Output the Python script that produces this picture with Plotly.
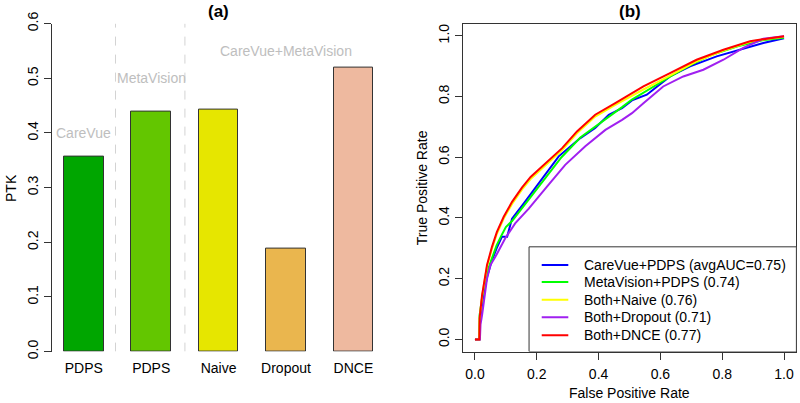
import plotly.graph_objects as go

# ---------------- data ----------------
bar_labels = ["PDPS", "PDPS", "Naive", "Dropout", "DNCE"]
bar_values = [0.357, 0.439, 0.442, 0.189, 0.520]
bar_colors = ["#00A600", "#63C600", "#E6E600", "#EAB64E", "#EEB99F"]
group_labels = ["CareVue", "MetaVision", "CareVue+MetaVision"]
group_label_x = [0, 1, 3]
group_label_y = [0.40, 0.50, 0.55]
separators_x = [0.47, 1.5]

roc_names = ["CareVue+PDPS (avgAUC=0.75)", "MetaVision+PDPS (0.74)", "Both+Naive (0.76)",
             "Both+Dropout (0.71)", "Both+DNCE (0.77)"]
roc_colors = ["#0000FF", "#00FF00", "#FFFF00", "#A020F0", "#FF0000"]

fpr_carevue = [0, 0.014, 0.016, 0.025, 0.04, 0.055, 0.07, 0.087, 0.104, 0.12, 0.158, 0.2, 0.24, 0.271,
               0.341, 0.389, 0.433, 0.476, 0.508, 0.556, 0.631, 0.696, 0.782, 0.858, 0.933, 1.0]
tpr_carevue = [0, 0, 0.06, 0.13, 0.21, 0.26, 0.30, 0.338, 0.338, 0.398, 0.448, 0.505, 0.56, 0.603,
               0.663, 0.696, 0.74, 0.762, 0.787, 0.806, 0.866, 0.899, 0.932, 0.954, 0.976, 0.992]

fpr_metavision = [0, 0.014, 0.015, 0.025, 0.04, 0.055, 0.07, 0.087, 0.1, 0.12, 0.158, 0.2, 0.24, 0.28,
                  0.341, 0.389, 0.433, 0.476, 0.508, 0.556, 0.631, 0.7, 0.76, 0.85, 0.93, 1.0]
tpr_metavision = [0, 0, 0.08, 0.15, 0.225, 0.27, 0.31, 0.345, 0.37, 0.39, 0.44, 0.495, 0.545, 0.60,
                  0.665, 0.70, 0.735, 0.765, 0.79, 0.82, 0.865, 0.905, 0.935, 0.965, 0.985, 0.993]

fpr_naive = [0, 0.014, 0.015, 0.023, 0.039, 0.055, 0.071, 0.093, 0.12, 0.152, 0.18, 0.217, 0.25,
             0.282, 0.33, 0.389, 0.454, 0.508, 0.545, 0.631, 0.717, 0.804, 0.89, 0.955, 1.0]
tpr_naive = [0, 0, 0.068, 0.142, 0.24, 0.299, 0.348, 0.398, 0.446, 0.493, 0.528, 0.563, 0.594,
             0.624, 0.679, 0.734, 0.772, 0.803, 0.823, 0.869, 0.916, 0.951, 0.98, 0.991, 0.997]

fpr_dropout = [0, 0.016, 0.018, 0.023, 0.039, 0.05, 0.066, 0.098, 0.13, 0.174, 0.233, 0.292, 0.357,
               0.422, 0.476, 0.508, 0.545, 0.609, 0.674, 0.739, 0.804, 0.868, 0.933, 1.0]
tpr_dropout = [0, 0, 0.05, 0.08, 0.20, 0.245, 0.272, 0.333, 0.382, 0.431, 0.503, 0.575, 0.636,
               0.69, 0.723, 0.745, 0.778, 0.833, 0.866, 0.888, 0.921, 0.96, 0.99, 0.998]

fpr_dnce = [0, 0.014, 0.015, 0.023, 0.039, 0.055, 0.071, 0.093, 0.12, 0.152, 0.18, 0.217, 0.25,
            0.282, 0.33, 0.389, 0.454, 0.508, 0.545, 0.631, 0.717, 0.804, 0.89, 0.955, 1.0]
tpr_dnce = [0, 0, 0.07, 0.146, 0.245, 0.305, 0.354, 0.404, 0.453, 0.50, 0.535, 0.57, 0.60,
            0.63, 0.685, 0.74, 0.778, 0.811, 0.833, 0.877, 0.921, 0.954, 0.982, 0.992, 0.998]

roc_fpr = [fpr_carevue, fpr_metavision, fpr_naive, fpr_dropout, fpr_dnce]
roc_tpr = [tpr_carevue, tpr_metavision, tpr_naive, tpr_dropout, tpr_dnce]

ptk_ticks = [0.0, 0.1, 0.2, 0.3, 0.4, 0.5, 0.6]
roc_ticks = [0.0, 0.2, 0.4, 0.6, 0.8, 1.0]

# ---------------- figure ----------------
FONT = "Liberation Sans, Arial, Helvetica, sans-serif"
fig = go.Figure()

fig.add_trace(go.Bar(
    x=list(range(len(bar_values))), y=bar_values, width=0.586,
    marker=dict(color=bar_colors, line=dict(color="#333333", width=1)),
    xaxis="x", yaxis="y", showlegend=False, hoverinfo="y"))

for f, t, c, n in zip(roc_fpr, roc_tpr, roc_colors, roc_names):
    fig.add_trace(go.Scatter(x=f, y=t, mode="lines", line=dict(color=c, width=2),
                             name=n, xaxis="x2", yaxis="y2", showlegend=False))

ydom = [(403 - 351.6) / 403, (403 - 23.6) / 403]
tickfont = dict(family=FONT, size=14, color="#000000")

fig.update_layout(
    width=800, height=403, margin=dict(l=0, r=0, t=0, b=0, autoexpand=False),
    paper_bgcolor="white", plot_bgcolor="white",
    font=dict(family=FONT, size=14, color="#000000"),
    bargap=0,
    xaxis=dict(domain=[52 / 800, 384 / 800], range=[-0.472, 4.454],
               tickvals=list(range(len(bar_labels))), ticktext=bar_labels,
               ticks="", showline=False, showgrid=False, zeroline=False,
               tickfont=tickfont, ticklabelstandoff=6, automargin=False),
    yaxis=dict(domain=ydom, range=[0, 0.6], tickvals=ptk_ticks,
               ticktext=["%.1f" % v for v in ptk_ticks],
               ticks="outside", ticklen=7, tickcolor="#333333", tickwidth=1,
               showline=True, linecolor="#333333", linewidth=1,
               showgrid=False, zeroline=False, tickangle=-90, tickfont=tickfont,
               automargin=False),
    xaxis2=dict(domain=[462.6 / 800, 796.4 / 800], range=[-0.04, 1.04],
                tickvals=roc_ticks, ticktext=["%.1f" % v for v in roc_ticks],
                ticks="outside", ticklen=7, tickcolor="#333333",
                showline=True, mirror=True, linecolor="#333333", linewidth=1,
                showgrid=False, zeroline=False, tickfont=tickfont,
                anchor="y2", ticklabelstandoff=3, automargin=False),
    yaxis2=dict(domain=ydom, range=[-0.04, 1.04],
                tickvals=roc_ticks, ticktext=["%.1f" % v for v in roc_ticks],
                ticks="outside", ticklen=7, tickcolor="#333333",
                showline=True, mirror=True, linecolor="#333333", linewidth=1,
                showgrid=False, zeroline=False, tickangle=-90, tickfont=tickfont,
                anchor="x2", automargin=False),
)

shapes = []
for sx in separators_x:
    shapes.append(dict(type="line", xref="x", yref="y", x0=sx, x1=sx, y0=0, y1=0.6,
                       line=dict(color="#D3D3D3", width=1, dash="dash"), layer="below"))

shapes.append(dict(type="rect", xref="x2", yref="y2", x0=0.175, x1=1.04, y0=-0.04, y1=0.305,
                   line=dict(color="#333333", width=1), fillcolor="white", layer="above"))
legend_rows_y = [0.245, 0.189, 0.131, 0.073, 0.014]
for ry, c in zip(legend_rows_y, roc_colors):
    shapes.append(dict(type="line", xref="x2", yref="y2", x0=0.216, x1=0.302, y0=ry, y1=ry,
                       line=dict(color=c, width=2), layer="above"))

annotations = []
for ry, n in zip(legend_rows_y, roc_names):
    annotations.append(dict(xref="x2", yref="y2", x=0.345, y=ry, text=n, showarrow=False,
                            xanchor="left", yanchor="middle",
                            font=dict(family=FONT, size=14, color="#000000")))

for gx, gy, gl in zip(group_label_x, group_label_y, group_labels):
    annotations.append(dict(xref="x", yref="y", x=gx, y=gy, text=gl, showarrow=False,
                            xanchor="center", yanchor="middle",
                            font=dict(family=FONT, size=14, color="#BEBEBE")))

annotations += [
    dict(xref="paper", yref="paper", x=218 / 800, y=(403 - 12) / 403, text="<b>(a)</b>",
         showarrow=False, xanchor="center", yanchor="middle",
         font=dict(family=FONT, size=17, color="#000000")),
    dict(xref="paper", yref="paper", x=629.5 / 800, y=(403 - 12) / 403, text="<b>(b)</b>",
         showarrow=False, xanchor="center", yanchor="middle",
         font=dict(family=FONT, size=17, color="#000000")),
    dict(xref="paper", yref="paper", x=11 / 800, y=(403 - 188) / 403, text="PTK",
         showarrow=False, xanchor="center", yanchor="middle", textangle=-90,
         font=dict(family=FONT, size=14, color="#000000")),
    dict(xref="paper", yref="paper", x=421.7 / 800, y=(403 - 187.5) / 403, text="True Positive Rate",
         showarrow=False, xanchor="center", yanchor="middle", textangle=-90,
         font=dict(family=FONT, size=14, color="#000000")),
    dict(xref="paper", yref="paper", x=629.5 / 800, y=(403 - 393) / 403, text="False Positive Rate",
         showarrow=False, xanchor="center", yanchor="middle",
         font=dict(family=FONT, size=14, color="#000000")),
]

fig.update_layout(shapes=shapes, annotations=annotations)
fig.write_html("out.html", config={"displayModeBar": False},
               post_script="document.body.style.margin='0';document.body.style.overflow='hidden';")
